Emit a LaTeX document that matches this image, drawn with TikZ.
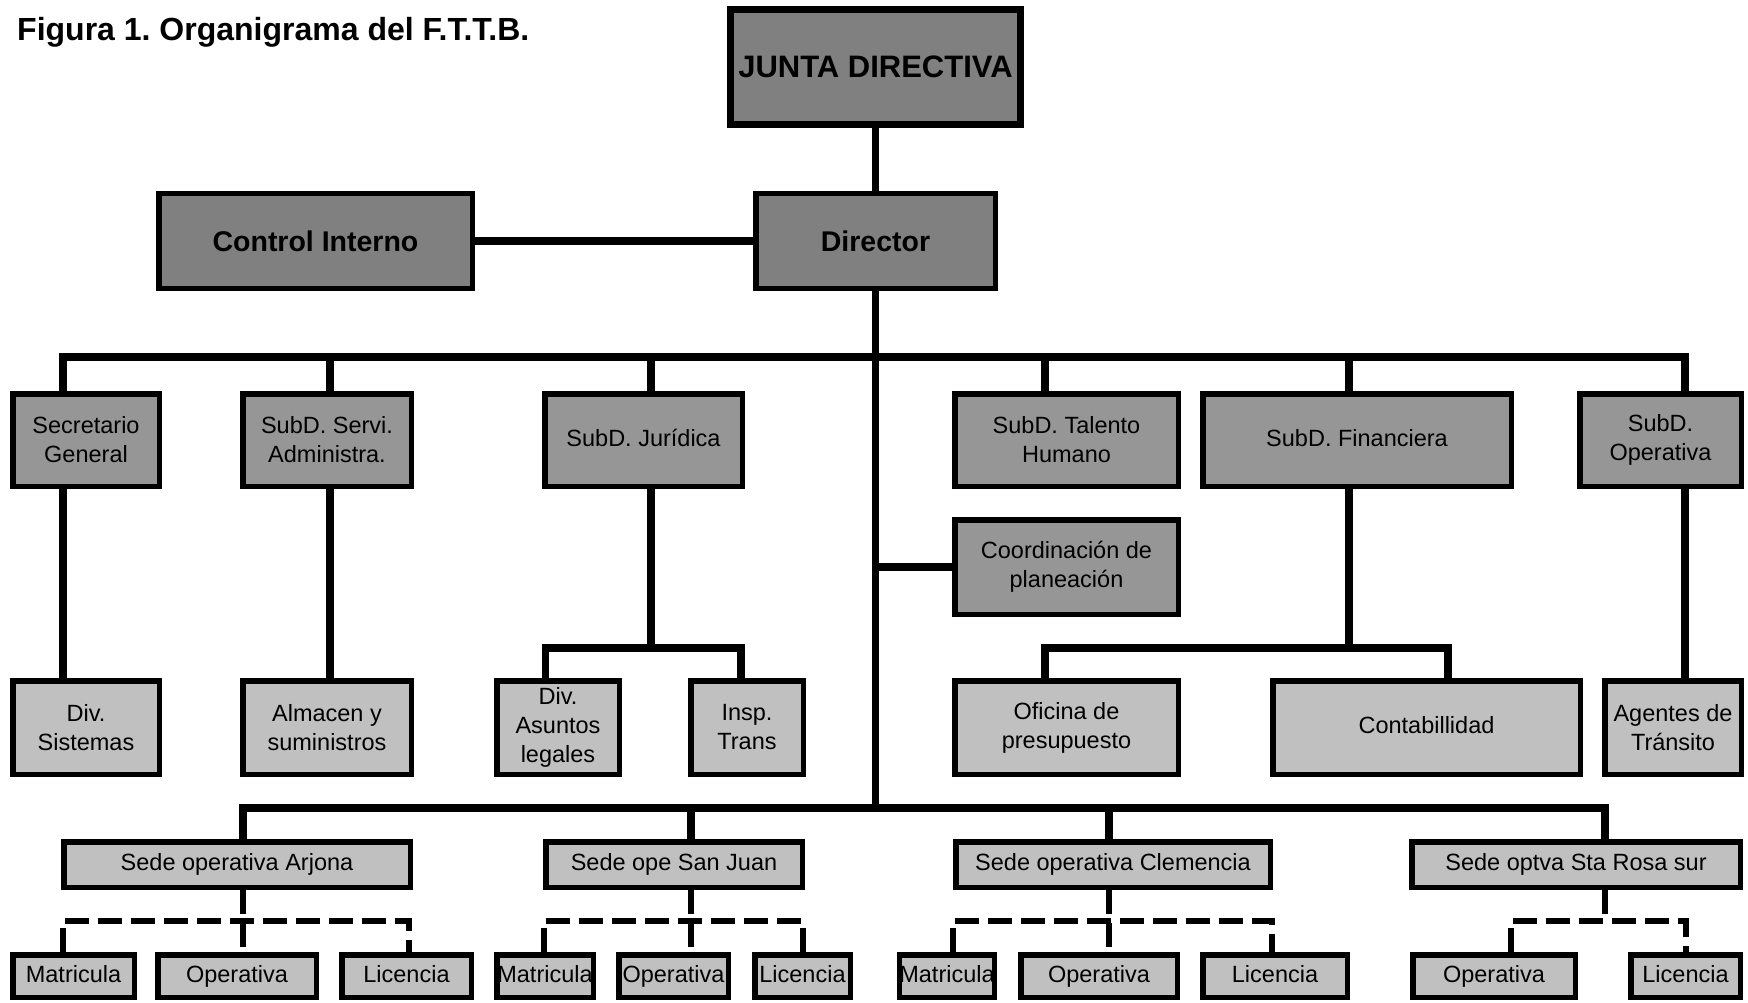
\documentclass[tikz,border=0pt]{standalone}
\usepackage{fontspec}
\setmainfont{Liberation Sans}
\frenchspacing
\definecolor{gDark}{HTML}{808080}
\definecolor{gMid}{HTML}{969696}
\definecolor{gLight}{HTML}{C0C0C0}
\newcommand\orgbox[7]{\node[#1, minimum width={#5-#3-5.5}, minimum height={#6-#4-5.5}] (#2) at ({(#3+#5)/2},{(#4+#6)/2}) {#7};}
\begin{document}
\begin{tikzpicture}[x=1pt,y=-1pt,
  base/.style={draw=black, line width=5.5pt, inner sep=0pt, align=center, text=black, font=\fontsize{23.5}{29}\selectfont},
  dark/.style={base, fill=gDark},
  midbox/.style={base, fill=gMid},
  light/.style={base, fill=gLight},
  oneline/.style={text height=17pt, text depth=5pt},
  conn/.style={line width=7.5pt, line join=miter, line cap=butt},
  dconn/.style={line width=6.5pt, line join=miter, dash pattern=on 24pt off 9pt}]
\fill[white] (0,0) rectangle (1748,1003);
\useasboundingbox (0,0) rectangle (1748,1003);

\node[anchor=base west, font=\bfseries\fontsize{32}{36}\selectfont, inner sep=0pt] (title) at (17,41) {Figura 1. Organigrama del F.T.T.B.};

\node[dark, line width=7pt, minimum width=290, minimum height=115, font=\bfseries\fontsize{31}{36}\selectfont] (junta) at (875.5,67) {JUNTA DIRECTIVA};
\orgbox{dark,font=\bfseries\fontsize{28.5}{34}\selectfont}{ctrl}{156}{191}{475}{291}{Control Interno}
\orgbox{dark,font=\bfseries\fontsize{28.5}{34}\selectfont}{dir}{753}{191}{998}{291}{Director}

\orgbox{midbox}{sec}{10}{391}{162}{489}{Secretario\\General}
\orgbox{midbox}{srv}{240}{391}{414}{489}{SubD. Servi.\\Administra.}
\orgbox{midbox,oneline}{jur}{542}{391}{745}{489}{SubD. Jurídica}
\orgbox{midbox}{tal}{952}{391}{1181}{489}{SubD. Talento\\Humano}
\orgbox{midbox,oneline}{fin}{1200}{391}{1514}{489}{SubD. Financiera}
\orgbox{midbox}{ope}{1577}{391}{1744}{489}{SubD.\\Operativa}
\orgbox{midbox}{coord}{952}{517}{1181}{617}{Coordinación de\\planeación}

\orgbox{light}{sis}{10}{678}{162}{777}{Div.\\Sistemas}
\orgbox{light}{alm}{240}{678}{414}{777}{Almacen y\\suministros}
\orgbox{light}{asu}{494}{678}{622}{777}{Div.\\Asuntos\\legales}
\orgbox{light}{ins}{688}{678}{806}{777}{Insp.\\Trans}
\orgbox{light}{ofi}{952}{678}{1181}{777}{Oficina de\\presupuesto}
\orgbox{light,oneline}{con}{1270}{678}{1583}{777}{Contabillidad}
\orgbox{light}{age}{1602}{678}{1744}{777}{Agentes de\\Tránsito}

\orgbox{light,oneline}{sa}{61}{839}{413}{890}{Sede operativa Arjona}
\orgbox{light,oneline}{ssj}{543}{839}{805}{890}{Sede ope San Juan}
\orgbox{light,oneline}{scl}{953}{839}{1273}{890}{Sede operativa Clemencia}
\orgbox{light,oneline}{ssr}{1409}{839}{1743}{890}{Sede optva Sta Rosa sur}

\orgbox{light,oneline}{m1}{10}{952}{137}{1000}{Matricula}
\orgbox{light,oneline}{o1}{155}{952}{319}{1000}{Operativa}
\orgbox{light,oneline}{l1}{339}{952}{474}{1000}{Licencia}
\orgbox{light,oneline}{m2}{494}{952}{596}{1000}{Matricula}
\orgbox{light,oneline}{o2}{616}{952}{731}{1000}{Operativa}
\orgbox{light,oneline}{l2}{752}{952}{853}{1000}{Licencia}
\orgbox{light,oneline}{m3}{898}{952}{996}{1000}{Matricula}
\orgbox{light,oneline}{o3}{1018}{952}{1180}{1000}{Operativa}
\orgbox{light,oneline}{l3}{1200}{952}{1350}{1000}{Licencia}
\orgbox{light,oneline}{o4}{1410}{952}{1578}{1000}{Operativa}
\orgbox{light,oneline}{l4}{1628}{952}{1743}{1000}{Licencia}

% top connectors
\draw[conn] (junta.south) -- (dir.north);
\draw[conn] (ctrl.east) -- (dir.west);

% first bus
\coordinate (busL) at (63,357);
\coordinate (busR) at (1685,357);
\coordinate (s2) at (330,357);
\coordinate (s3) at (651,357);
\coordinate (s5) at (1045,357);
\coordinate (s6) at (1349,357);
\draw[conn] (busL |- sec.north) -- (busL) -- (busR) -- (busR |- ope.north);
\draw[conn] (s2) -- (s2 |- srv.north);
\draw[conn] (s3) -- (s3 |- jur.north);
\draw[conn] (s5) -- (s5 |- tal.north);
\draw[conn] (s6) -- (s6 |- fin.north);

% main vertical and planeacion
\coordinate (bbl) at (243,808);
\coordinate (bbr) at (1605,808);
\draw[conn] (dir.south) -- (dir.south |- bbl);
\draw[conn] (dir.south |- coord.west) -- (coord.west);

% level 2 links
\draw[conn] (busL |- sec.south) -- (busL |- sis.north);
\draw[conn] (s2 |- srv.south) -- (s2 |- alm.north);
\coordinate (jb) at (651,648);
\coordinate (jbl) at (545.5,648);
\coordinate (jbr) at (741,648);
\draw[conn] (jb |- jur.south) -- (jb);
\draw[conn] (jbl |- asu.north) -- (jbl) -- (jbr) -- (jbr |- ins.north);
\coordinate (fb) at (1349,648);
\coordinate (fbl) at (1045,648);
\coordinate (fbr) at (1448,648);
\draw[conn] (fb |- fin.south) -- (fb);
\draw[conn] (fbl |- ofi.north) -- (fbl) -- (fbr) -- (fbr |- con.north);
\draw[conn] (busR |- ope.south) -- (busR |- age.north);

% bottom bus
\coordinate (bb2) at (691,808);
\coordinate (bb3) at (1109,808);
\draw[conn] (bbl |- sa.north) -- (bbl) -- (bbr) -- (bbr |- ssr.north);
\draw[conn] (bb2) -- (bb2 |- ssj.north);
\draw[conn] (bb3) -- (bb3 |- scl.north);

% dashed groups
\coordinate (da) at (243,921); \coordinate (dal) at (63,921); \coordinate (dar) at (409,921);
\draw[dconn] (da |- sa.south) -- (da |- o1.north);
\draw[dconn] (dal |- m1.north) -- (dal) -- (dar) -- (dar |- l1.north);
\coordinate (db) at (691,921); \coordinate (dbl) at (544,921); \coordinate (dbr) at (803,921);
\draw[dconn] (db |- ssj.south) -- (db |- o2.north);
\draw[dconn] (dbl |- m2.north) -- (dbl) -- (dbr) -- (dbr |- l2.north);
\coordinate (dc) at (1109,921); \coordinate (dcl) at (953,921); \coordinate (dcr) at (1272,921);
\draw[dconn] (dc |- scl.south) -- (dc |- o3.north);
\draw[dconn] (dcl |- m3.north) -- (dcl) -- (dcr) -- (dcr |- l3.north);
\coordinate (dd) at (1605,921); \coordinate (ddl) at (1511,921); \coordinate (ddr) at (1686,921);
\draw[dconn] (dd |- ssr.south) -- (dd);
\draw[dconn] (ddl |- o4.north) -- (ddl) -- (ddr) -- (ddr |- l4.north);
\end{tikzpicture}
\end{document}
